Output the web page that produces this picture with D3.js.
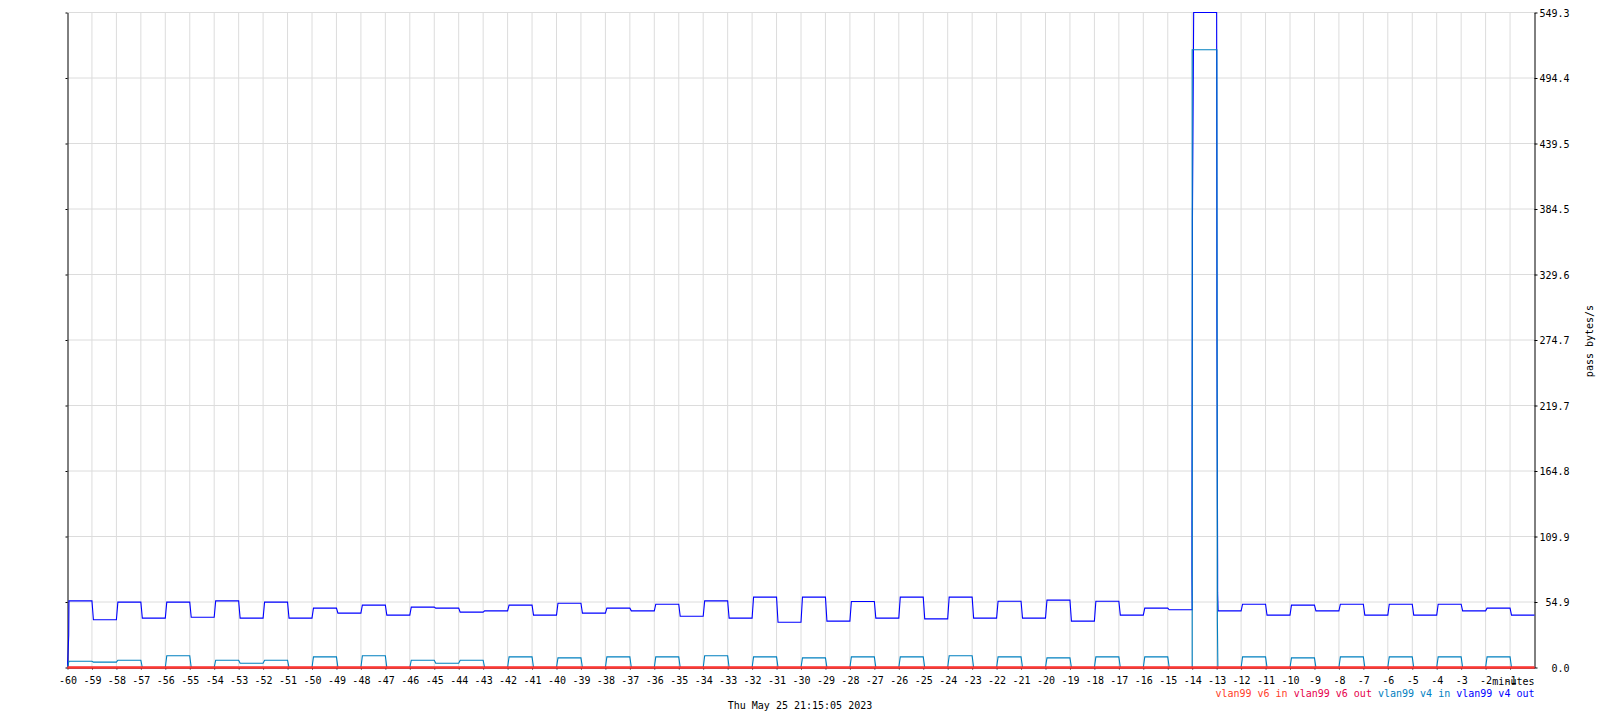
<!DOCTYPE html>
<html>
<head>
<meta charset="utf-8">
<script src="https://cdn.jsdelivr.net/npm/d3@7"></script>
<style>
  html, body { margin: 0; padding: 0; background: #ffffff; }
  svg { display: block; font-family: "DejaVu Sans Mono", monospace; }
  text { white-space: pre; }
</style>
</head>
<body>
<svg id="chart" width="1600" height="720"></svg>
<script>
// ---- data ----
const minuteTicks = [-60,-59,-58,-57,-56,-55,-54,-53,-52,-51,-50,-49,-48,-47,-46,-45,-44,-43,-42,-41,
  -40,-39,-38,-37,-36,-35,-34,-33,-32,-31,-30,-29,-28,-27,-26,-25,-24,-23,-22,-21,
  -20,-19,-18,-17,-16,-15,-14,-13,-12,-11,-10,-9,-8,-7,-6,-5,-4,-3,-2,-1];

const yTickValues = [0, 54.93, 109.86, 164.79, 219.72, 274.65, 329.58, 384.51, 439.44, 494.37, 549.3];
const yTickLabels = ["0.0","54.9","109.9","164.8","219.7","274.7","329.6","384.5","439.5","494.4","549.3"];

// value for each minute interval starting at minuteTicks[i]
const v4Out = [55.9,40.0,54.8,41.4,54.8,42.2,55.9,41.4,54.8,41.4,
  49.8,45.6,52.3,43.9,50.6,49.8,46.4,47.5,52.3,43.9,
  53.9,45.6,49.8,47.5,53.1,43.0,55.9,41.4,59.0,38.0,
  59.0,38.9,55.4,41.4,59.0,40.8,59.0,41.4,55.6,41.4,
  56.5,38.9,55.6,43.9,49.8,48.4,549.3,47.5,53.1,43.9,
  52.3,47.5,53.1,43.9,53.1,43.9,53.1,47.5,49.8,43.9];

const v4In = [5.3,4.5,6.1,0,9.8,0,6.1,3.6,6.1,0,
  8.9,0,9.8,0,6.1,3.6,6.1,0,8.9,0,
  8.1,0,8.9,0,8.9,0,9.8,0,8.9,0,
  8.1,0,8.9,0,8.9,0,9.8,0,8.9,0,
  8.1,0,8.9,0,8.9,0,518.0,0,8.9,0,
  8.1,0,8.9,0,8.9,0,8.9,0,8.9,0];

const v6In = [0,0,0,0,0,0,0,0,0,0,0,0,0,0,0,0,0,0,0,0,
  0,0,0,0,0,0,0,0,0,0,0,0,0,0,0,0,0,0,0,0,
  0,0,0,0,0,0,0,0,0,0,0,0,0,0,0,0,0,0,0,0];
const v6Out = [0,0,0,0,0,0,0,0,0,0,0,0,0,0,0,0,0,0,0,0,
  0,0,0,0,0,0,0,0,0,0,0,0,0,0,0,0,0,0,0,0,
  0,0,0,0,0,0,0,0,0,0,0,0,0,0,0,0,0,0,0,0];

// intermediate samples read on the spike's edges: [minute, value]
const v4OutStart = [[-59.95, 27]];
const v4OutSpikeRise = [[-14.01, 79], [-14.01, 123], [-13.99, 340], [-13.99, 375]];
const v4OutSpikeFall = [[-12.99, 336], [-12.99, 298], [-12.96, 86], [-12.96, 63]];
const v4InSpikeRise = [[-14.0, 518]];
const v4InSpikeFall = [[-12.99, 518], [-12.97, 40], [-12.95, 0]];

const seriesNames = ["vlan99 v6 in", "vlan99 v6 out", "vlan99 v4 in", "vlan99 v4 out"];
const seriesColors = ["#ff3c28", "#e6004c", "#0080c0", "#0000ff"];
const dateLabel = "Thu May 25 21:15:05 2023";
const yTitle = "pass bytes/s";
const xTitle = "minutes";

// ---- chart ----
const svg = d3.select("#chart");
const x = d3.scaleLinear().domain([-60, 0]).range([67.5, 1534.5]);
const y = d3.scaleLinear().domain([0, 549.3]).range([667.5, 12.5]);

// grid
const grid = svg.append("g").attr("stroke", "#dcdcdc").attr("stroke-width", 1);
grid.selectAll("line.v").data(minuteTicks.slice(1)).join("line")
  .attr("x1", d => x(d)).attr("x2", d => x(d))
  .attr("y1", y(549.3)).attr("y2", y(0));
grid.selectAll("line.h").data(yTickValues.slice(1)).join("line")
  .attr("x1", x(-60)).attr("x2", x(0))
  .attr("y1", d => y(d)).attr("y2", d => y(d));

// axes
const fontSize = 10;
const xAxis = svg.append("g").attr("transform", `translate(0,${y(0)})`)
  .call(d3.axisBottom(x).tickValues(minuteTicks).tickSize(2).tickSizeOuter(0).tickFormat(d => String(d)));
xAxis.select(".domain").attr("stroke", "#000");
xAxis.selectAll(".tick line").attr("stroke", "#000");
xAxis.selectAll(".tick text").attr("y", 16.5).attr("dy", 0)
  .attr("font-size", fontSize).attr("font-family", "DejaVu Sans Mono").attr("fill", "#000");

const leftAxis = svg.append("g").attr("transform", `translate(${x(-60)},0)`)
  .call(d3.axisLeft(y).tickValues(yTickValues).tickSize(2).tickSizeOuter(0).tickFormat(""));
leftAxis.selectAll("path, line").attr("stroke", "#000");

const rightAxis = svg.append("g").attr("transform", `translate(${x(0)},0)`)
  .call(d3.axisRight(y).tickValues(yTickValues).tickSize(3).tickSizeOuter(0)
    .tickFormat((d, i) => yTickLabels[i]));
rightAxis.selectAll("path, line").attr("stroke", "#000");
rightAxis.selectAll(".tick text").attr("x", 35).attr("text-anchor", "end").attr("dy", "0.35em")
  .attr("font-size", fontSize).attr("font-family", "DejaVu Sans Mono").attr("fill", "#000");

// series
const ramp = 0.06;
function buildPoints(vals, extras) {
  const pts = [[-60, 0]];
  vals.forEach((v, i) => {
    const m = minuteTicks[i];
    (extras[i] || []).forEach(p => pts.push(p));
    pts.push([m + ramp, v]);
    pts.push([m + 1, v]);
  });
  return pts;
}
const line = d3.line().x(d => x(d[0])).y(d => y(d[1]));
const seriesData = [v6In, v6Out, v4In, v4Out];
const seriesExtras = [{}, {}, {46: v4InSpikeRise, 47: v4InSpikeFall}, {0: v4OutStart, 46: v4OutSpikeRise, 47: v4OutSpikeFall}];
const drawOrder = [3, 2, 1, 0];
const widths = [2, 2, 1.1, 1.1];
drawOrder.forEach(k => {
  svg.append("path")
    .attr("d", line(buildPoints(seriesData[k], seriesExtras[k])))
    .attr("fill", "none")
    .attr("stroke", seriesColors[k])
    .attr("stroke-width", widths[k])
    .attr("stroke-linejoin", "miter");
});

// x title
svg.append("text").attr("x", x(0)).attr("y", 684.5).attr("text-anchor", "end")
  .attr("font-size", fontSize).attr("fill", "#000").text(xTitle);

// legend
const legend = svg.append("text").attr("x", x(0)).attr("y", 697).attr("text-anchor", "end")
  .attr("font-size", fontSize);
seriesNames.forEach((n, i) => {
  legend.append("tspan").attr("fill", seriesColors[i]).text((i ? " " : "") + n);
});

// date
svg.append("text").attr("x", 800).attr("y", 709).attr("text-anchor", "middle")
  .attr("font-size", fontSize).attr("fill", "#000").text(dateLabel);

// y title
svg.append("text").attr("transform", `translate(1593,341) rotate(-90)`)
  .attr("text-anchor", "middle").attr("font-size", fontSize).attr("fill", "#000").text(yTitle);
</script>
</body>
</html>
